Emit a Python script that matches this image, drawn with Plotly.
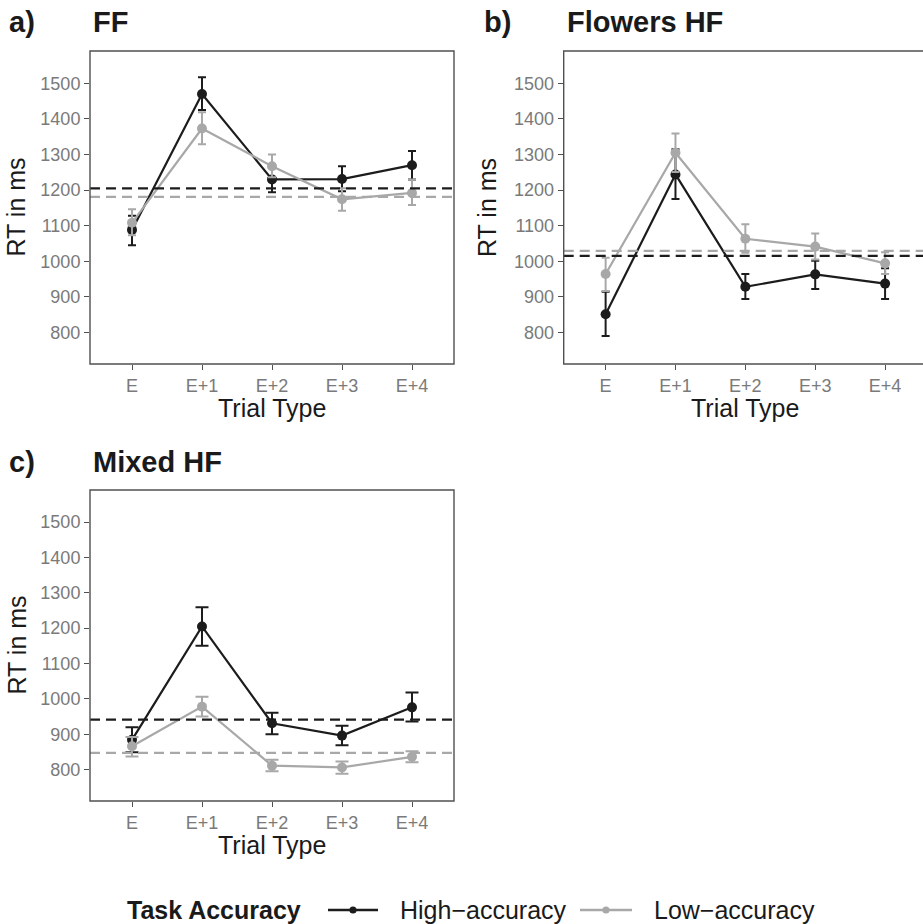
import plotly.graph_objects as go

W, H = 923, 924

trial_types = ["E", "E+1", "E+2", "E+3", "E+4"]
group_names = ["High\u2212accuracy", "Low\u2212accuracy"]
y_ticks = [800, 900, 1000, 1100, 1200, 1300, 1400, 1500]

# Panel a) FF
ff_high = [1088, 1470, 1230, 1231, 1270]
ff_high_upper = [1128, 1517, 1268, 1267, 1310]
ff_high_lower = [1045, 1425, 1194, 1197, 1230]
ff_low = [1108, 1373, 1267, 1174, 1192]
ff_low_upper = [1146, 1419, 1300, 1205, 1230]
ff_low_lower = [1073, 1329, 1236, 1142, 1158]
ff_means = [1205, 1181]

# Panel b) Flowers HF
fl_high = [851, 1244, 928, 963, 937]
fl_high_upper = [914, 1315, 964, 1001, 980]
fl_high_lower = [790, 1175, 894, 922, 894]
fl_low = [964, 1305, 1063, 1041, 994]
fl_low_upper = [1010, 1359, 1104, 1078, 1025]
fl_low_lower = [916, 1251, 1024, 1005, 964]
fl_means = [1015, 1029]

# Panel c) Mixed HF
mx_high = [884, 1205, 931, 896, 976]
mx_high_upper = [920, 1259, 961, 924, 1018]
mx_high_lower = [849, 1150, 900, 869, 936]
mx_low = [866, 978, 811, 806, 836]
mx_low_upper = [892, 1006, 828, 823, 852]
mx_low_lower = [837, 950, 795, 788, 821]
mx_means = [941, 847]

FONT = "Liberation Sans, Arial, sans-serif"
C_HIGH = "#1c1c1c"
C_LOW = "#a8a8a8"
C_AXIS = "#505050"
C_TICK = "#7a7a7a"
C_TEXT = "#1a1a1a"

panels = [
    dict(tag="a)", title="FF", ax="", box=(90, 51, 454, 364), xr=(-0.6, 4.6), cap=4,
         high=(ff_high, ff_high_upper, ff_high_lower), low=(ff_low, ff_low_upper, ff_low_lower),
         means=ff_means, tagx=7, titlex=91, ty=22, ytx=16, xtc=272),
    dict(tag="b)", title="Flowers HF", ax="2", box=(563.7, 51, 927, 364), xr=None, cap=4,
         high=(fl_high, fl_high_upper, fl_high_lower), low=(fl_low, fl_low_upper, fl_low_lower),
         means=fl_means, tagx=482, titlex=565, ty=22, ytx=487.5, xtc=745),
    dict(tag="c)", title="Mixed HF", ax="3", box=(90, 490, 454, 801), xr=(-0.6, 4.6), cap=6.5,
         high=(mx_high, mx_high_upper, mx_high_lower), low=(mx_low, mx_low_upper, mx_low_lower),
         means=mx_means, tagx=7, titlex=91, ty=462, ytx=16, xtc=272),
]

fig = go.Figure()
shapes = []
annotations = []
layout = {}

for p in panels:
    l, t, r, b = p["box"]
    xa = "x" + p["ax"]
    ya = "y" + p["ax"]
    xdom = [l / W, min(r, W) / W]
    ydom = [1 - b / H, 1 - t / H]
    if p["xr"] is None:
        # panel cut at the right edge of the figure: keep 70 px per category
        unit = (r - l) / 5.2
        xr = (-0.6, -0.6 + (min(r, W) - l) / unit)
    else:
        xr = p["xr"]
    axis_common = dict(showgrid=False, zeroline=False, showline=False, ticks="outside",
                       ticklen=5, tickwidth=1.4, tickcolor=C_AXIS,
                       tickfont=dict(family=FONT, size=18, color=C_TICK))
    layout["xaxis" + p["ax"]] = dict(domain=xdom, anchor=ya, range=list(xr), type="category",
                                     categoryorder="array", categoryarray=trial_types,
                                     tickvals=trial_types, **axis_common)
    layout["yaxis" + p["ax"]] = dict(domain=ydom, anchor=xa, range=[711, 1591],
                                     tickvals=y_ticks, **axis_common)

    for (vals, up, lo), col, name in [(p["high"], C_HIGH, group_names[0]),
                                      (p["low"], C_LOW, group_names[1])]:
        fig.add_trace(go.Scatter(
            x=trial_types, y=vals, xaxis=xa, yaxis=ya, mode="lines+markers",
            name=name, showlegend=False,
            line=dict(color=col, width=2.2),
            marker=dict(color=col, size=10),
            error_y=dict(type="data", symmetric=False,
                         array=[u - v for u, v in zip(up, vals)],
                         arrayminus=[v - d for v, d in zip(vals, lo)],
                         color=col, thickness=2, width=p["cap"]),
        ))

    for m, col in zip(p["means"], [C_HIGH, C_LOW]):
        shapes.append(dict(type="line", xref=xa + " domain", yref=ya, x0=0, x1=1, y0=m, y1=m,
                           line=dict(color=col, width=2.2, dash="10px,6px"), layer="above"))

    # panel border
    shapes.append(dict(type="rect", xref="paper", yref="paper",
                       x0=l / W, x1=r / W, y0=1 - b / H, y1=1 - t / H,
                       line=dict(color=C_AXIS, width=1.4), fillcolor="rgba(0,0,0,0)"))

    annotations.append(dict(text="<b>" + p["tag"] + "</b>", xref="paper", yref="paper",
                            x=p["tagx"] / W, y=1 - p["ty"] / H, xanchor="left", yanchor="middle",
                            showarrow=False, font=dict(family=FONT, size=29, color=C_TEXT)))
    annotations.append(dict(text="<b>" + p["title"] + "</b>", xref="paper", yref="paper",
                            x=p["titlex"] / W, y=1 - p["ty"] / H, xanchor="left", yanchor="middle",
                            showarrow=False, font=dict(family=FONT, size=29, color=C_TEXT)))
    annotations.append(dict(text="RT in ms", xref="paper", yref="paper", textangle=-90,
                            x=p["ytx"] / W, y=1 - (t + b) / 2 / H, xanchor="center", yanchor="middle",
                            showarrow=False, font=dict(family=FONT, size=25, color=C_TEXT)))
    annotations.append(dict(text="Trial Type", xref="paper", yref="paper",
                            x=p["xtc"] / W, y=1 - (b + 44) / H, xanchor="center", yanchor="middle",
                            showarrow=False, font=dict(family=FONT, size=25, color=C_TEXT)))

# Legend (drawn manually to match the layout)
LY = 910
annotations.append(dict(text="<b>Task Accuracy</b>", xref="paper", yref="paper",
                        x=125 / W, y=1 - LY / H, xanchor="left", yanchor="middle",
                        showarrow=False, font=dict(family=FONT, size=25, color=C_TEXT)))
for (x0, x1, tx), col, name in [((328, 378, 398), C_HIGH, group_names[0]),
                                ((580, 632, 652), C_LOW, group_names[1])]:
    shapes.append(dict(type="line", xref="paper", yref="paper", x0=x0 / W, x1=x1 / W,
                       y0=1 - LY / H, y1=1 - LY / H, line=dict(color=col, width=2.4)))
    cx = (x0 + x1) / 2
    shapes.append(dict(type="circle", xref="paper", yref="paper",
                       x0=(cx - 3.6) / W, x1=(cx + 3.6) / W,
                       y0=1 - (LY + 3.6) / H, y1=1 - (LY - 3.6) / H,
                       fillcolor=col, line=dict(color=col, width=0)))
    annotations.append(dict(text=name, xref="paper", yref="paper",
                            x=tx / W, y=1 - LY / H, xanchor="left", yanchor="middle",
                            showarrow=False, font=dict(family=FONT, size=25, color=C_TEXT)))

fig.update_layout(
    width=W, height=H, margin=dict(l=0, r=0, t=0, b=0),
    paper_bgcolor="white", plot_bgcolor="white",
    showlegend=False, shapes=shapes, annotations=annotations,
    font=dict(family=FONT), **layout,
)

fig.write_html("out.html")
